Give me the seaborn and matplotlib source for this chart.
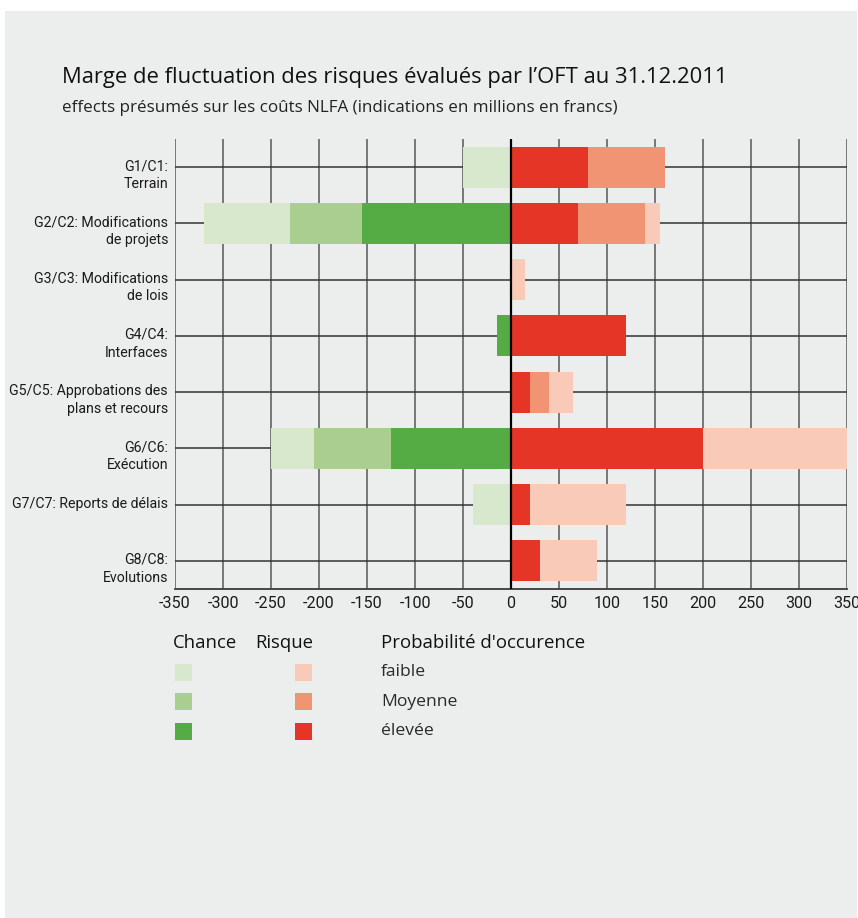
import numpy as np
import pandas as pd
import seaborn as sns
import matplotlib.pyplot as plt
from matplotlib.patches import Rectangle
from matplotlib.transforms import offset_copy

# %%
categories = [
    "G1/C1:\nTerrain",
    "G2/C2: Modifications\nde projets",
    "G3/C3: Modifications\nde lois",
    "G4/C4:\nInterfaces",
    "G5/C5: Approbations des\nplans et recours",
    "G6/C6:\nExécution",
    "G7/C7: Reports de délais",
    "G8/C8:\nEvolutions",
]

# segment widths, millions CHF (chances negative)
chance_elevee = [0, -155, 0, -15, 0, -125, 0, 0]
chance_moyenne = [0, -75, 0, 0, 0, -80, 0, 0]
chance_faible = [-50, -90, 0, 0, 0, -45, -40, 0]
risque_elevee = [80, 70, 0, 120, 20, 200, 20, 30]
risque_moyenne = [80, 70, 0, 0, 20, 0, 0, 0]
risque_faible = [0, 15, 15, 0, 25, 150, 100, 60]

xticks = list(range(-350, 351, 50))
legend_levels = ["faible", "Moyenne", "élevée"]

green = {"faible": "#d8e8cc", "Moyenne": "#aacd90", "élevée": "#55ac44"}
red = {"faible": "#f9cab7", "Moyenne": "#f19473", "élevée": "#e53527"}

bg = "#eceeed"

# %%
sns.set_theme(style="white")
plt.rcParams["font.family"] = ["Open Sans", "DejaVu Sans"]
label_font = ["Roboto", "DejaVu Sans"]

df = pd.DataFrame({"cat": categories})
df["c1"] = np.array(chance_elevee)
df["c2"] = df["c1"] + np.array(chance_moyenne)
df["c3"] = df["c2"] + np.array(chance_faible)
df["r1"] = np.array(risque_elevee)
df["r2"] = df["r1"] + np.array(risque_moyenne)
df["r3"] = df["r2"] + np.array(risque_faible)

fig = plt.figure(figsize=(8.58, 9.18), dpi=100, facecolor="white")
fig.add_artist(Rectangle((5 / 858, 0), 852 / 858, 907 / 918, transform=fig.transFigure,
                         facecolor=bg, edgecolor="none", zorder=-10))

ax = fig.add_axes([175 / 858, 1 - 589 / 918, 672 / 858, 450 / 918])
ax.set_facecolor(bg)
ax.set_axisbelow(True)

# draw longest cumulative segments first, shorter ones on top
for col, color in [("c3", green["faible"]), ("c2", green["Moyenne"]), ("c1", green["élevée"]),
                   ("r3", red["faible"]), ("r2", red["Moyenne"]), ("r1", red["élevée"])]:
    sns.barplot(data=df, x=col, y="cat", orient="h", color=color, width=0.73,
                linewidth=0, errorbar=None, saturation=1, ax=ax, zorder=2)

ax.set_xlim(-350, 350)
ax.set_ylim(7.5, -0.5)
ax.set_xticks(xticks)
ax.set_xticklabels([str(t) for t in xticks], fontsize=11.6, family=label_font, color="#1a1a1a")
ax.tick_params(axis="both", length=0)
ax.tick_params(axis="x", pad=5)
ax.set_yticks([])
ax.set_xlabel("")
ax.set_ylabel("")

# category labels: first line sits just above its grid line
lab_tr = offset_copy(ax.get_yaxis_transform(), fig=fig, x=-7, y=8, units="dots")
for i, cat in enumerate(categories):
    ax.text(0, i, cat, transform=lab_tr, ha="right", va="top", multialignment="right",
            fontsize=10.2, family=label_font, color="#1a1a1a", linespacing=1.33)

for x in xticks:
    ax.axvline(x, color="#6e6e6e", lw=1.3, zorder=0)
for i in range(len(categories)):
    ax.axhline(i, color="#333333", lw=1.1, zorder=0)
ax.axvline(0, color="black", lw=1.6, zorder=3)

for side in ["top", "right", "left"]:
    ax.spines[side].set_visible(False)
ax.spines["bottom"].set_color("#3a3a3a")
ax.spines["bottom"].set_linewidth(1.3)

# titles
fig.text(62 / 858, 1 - 77 / 918, "Marge de fluctuation des risques évalués par l’OFT au 31.12.2011",
         fontsize=15.8, color="#111111", va="center", ha="left")
fig.text(62 / 858, 1 - 108 / 918, "effects présumés sur les coûts NLFA (indications en millions en francs)",
         fontsize=12.25, color="#222222", va="center", ha="left")

# legend
fig.text(173 / 858, 1 - 643 / 918, "Chance", fontsize=13.3, color="#111111", va="center")
fig.text(255 / 858, 1 - 643 / 918, "Risque", fontsize=13.3, color="#111111", va="center")
fig.text(381 / 858, 1 - 643 / 918, "Probabilité d'occurence", fontsize=13.4, color="#111111", va="center")
for k, lev in enumerate(legend_levels):
    yc = 672 + k * 29.5
    fig.add_artist(Rectangle((175 / 858, 1 - (yc + 8.5) / 918), 17 / 858, 17 / 918,
                             transform=fig.transFigure, facecolor=green[lev], edgecolor="none"))
    fig.add_artist(Rectangle((295 / 858, 1 - (yc + 8.5) / 918), 17 / 858, 17 / 918,
                             transform=fig.transFigure, facecolor=red[lev], edgecolor="none"))
    fig.text(381 / 858, 1 - yc / 918, lev, fontsize=12.6, color="#2a2a2a", va="center")

fig.savefig("out.png", dpi=100, facecolor="white")
